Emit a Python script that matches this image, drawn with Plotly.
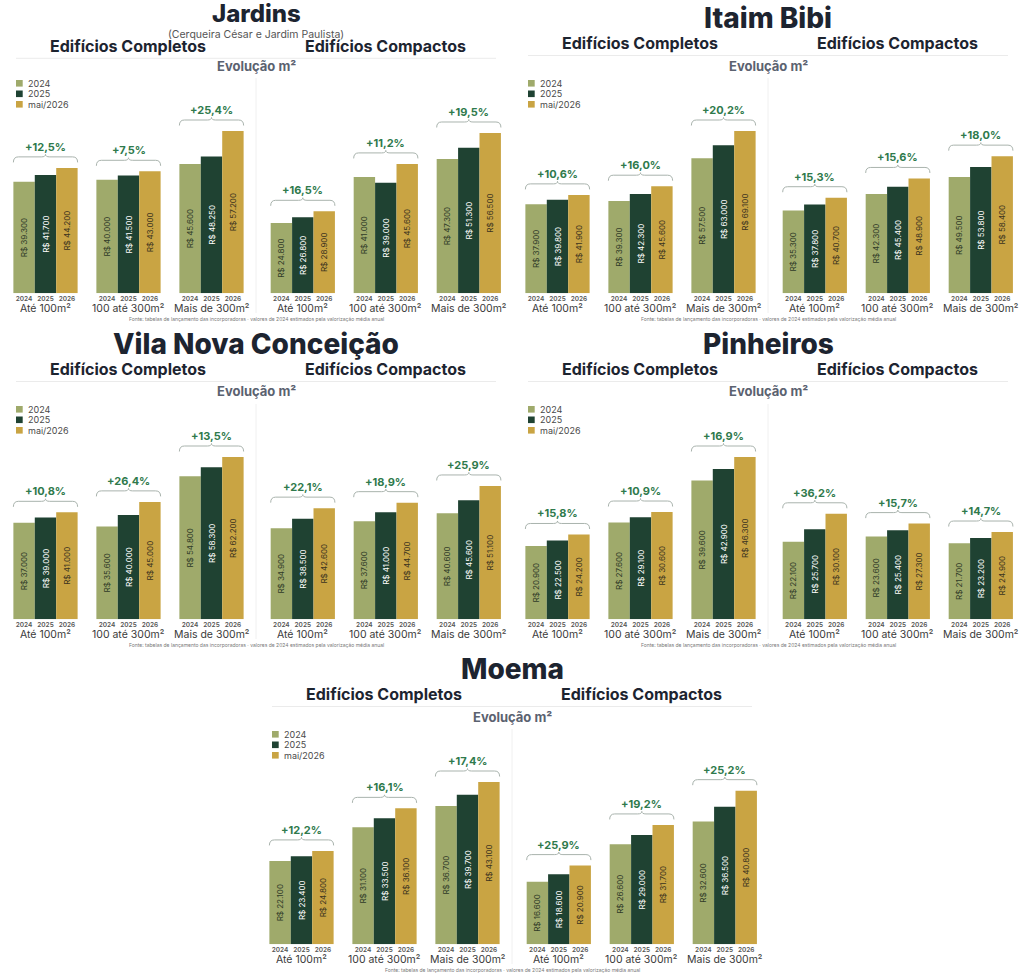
import plotly.graph_objects as go

categorias = ["Até 100m²", "100 até 300m²", "Mais de 300m²"]
anos = ["2024", "2025", "2026"]
legenda = ["2024", "2025", "mai/2026"]
tipos = ["Edifícios Completos", "Edifícios Compactos"]
bairros = ["Jardins", "Itaim Bibi", "Vila Nova Conceição", "Pinheiros", "Moema"]
subtitulo_jardins = "(Cerqueira César e Jardim Paulista)"
fonte = ("Fonte: tabelas de lançamento das incorporadoras · valores de 2024 "
         "estimados pela valorização média anual")

# R$/m² por ano (2024, 2025, mai/2026); cada lista segue a ordem das categorias
jardins_completos = [[39300, 40000, 45600], [41700, 41500, 48250], [44200, 43000, 57200]]
jardins_compactos = [[24800, 41000, 47300], [26800, 39000, 51300], [28900, 45600, 56500]]
itaim_completos = [[37900, 39300, 57500], [39800, 42300, 63000], [41900, 45600, 69100]]
itaim_compactos = [[35300, 42300, 49500], [37800, 45400, 53800], [40700, 48900, 58400]]
vnc_completos = [[37000, 35600, 54800], [39000, 40000, 58300], [41000, 45000, 62200]]
vnc_compactos = [[34900, 37600, 40600], [38500, 41000, 45600], [42600, 44700, 51100]]
pinheiros_completos = [[20900, 27600, 39600], [22500, 29100, 42900], [24200, 30600, 46300]]
pinheiros_compactos = [[22100, 23600, 21700], [25700, 25400, 23200], [30100, 27300, 24900]]
moema_completos = [[22100, 31100, 36700], [23400, 33500, 39700], [24800, 36100, 43100]]
moema_compactos = [[16600, 26600, 32600], [18600, 29000, 36500], [20900, 31700, 40800]]

dados = [
    (jardins_completos, jardins_compactos),
    (itaim_completos, itaim_compactos),
    (vnc_completos, vnc_compactos),
    (pinheiros_completos, pinheiros_compactos),
    (moema_completos, moema_compactos),
]

cores = ["#9faa6b", "#1f4232", "#c9a443"]
cores_texto = ["#2f3a28", "#ffffff", "#3b3320"]
ESCURO = "#1d2430"
FONTE = "Inter"

W, H = 1024, 976
paineis = [(0, 0), (512, 0), (0, 326), (512, 326), (256, 651)]
ESP = 83.0          # px entre grupos
BW = 0.258          # largura da barra (unidades de grupo)
HW = 1.5 * BW       # meia largura do grupo
ALT_MAX = 162.3     # px da barra mais alta


def fx(px):
    return px / W


def fy(py):
    return 1 - py / H


def real(v):
    return "R$ " + f"{v:,}".replace(",", ".")


def texto(x, y, txt, fnt, xref="paper", yref="paper", xanchor="center", **kw):
    return dict(x=x, y=y, xref=xref, yref=yref, text=txt, showarrow=False,
                xanchor=xanchor, yanchor="middle", font=fnt, **kw)


fig = go.Figure()
layout = {}
annotations = []
shapes = []

k = 0
for p, (nome, (ox, oy), par) in enumerate(zip(bairros, paineis, dados)):
    vmax = max(max(max(a) for a in serie) for serie in par)
    u = vmax / ALT_MAX
    base = oy + 293.3
    topo = oy + 100

    for t, serie in enumerate(par):
        k += 1
        xa = "x" if k == 1 else f"x{k}"
        ya = "y" if k == 1 else f"y{k}"
        c0 = ox + 45.5 + t * 257.3
        d0, d1 = ox + 4 + t * 257, ox + 253 + t * 257
        pos = [g + (j - 1) * BW for g in range(3) for j in range(3)]
        layout["xaxis" if k == 1 else f"xaxis{k}"] = dict(
            domain=[fx(d0), fx(d1)],
            range=[(d0 - c0) / ESP, (d1 - c0) / ESP],
            anchor=ya,
            tickvals=pos,
            ticktext=anos * 3,
            tickfont=dict(family=FONTE, size=6.5, color="#555555", weight=600),
            ticks="",
            showgrid=False,
            zeroline=False,
            showline=False,
            fixedrange=True,
        )
        layout["yaxis" if k == 1 else f"yaxis{k}"] = dict(
            domain=[fy(base), fy(topo)],
            range=[0, (base - topo) * u],
            anchor=xa,
            visible=False,
            fixedrange=True,
        )
        for j in range(3):
            fig.add_trace(go.Bar(
                x=[g + (j - 1) * BW for g in range(3)],
                y=serie[j],
                width=BW,
                marker=dict(color=cores[j], line=dict(width=0)),
                text=[real(v) for v in serie[j]],
                textposition="inside",
                insidetextanchor="middle",
                textangle=-90,
                constraintext="none",
                textfont=dict(family=FONTE, size=8, color=cores_texto[j]),
                xaxis=xa,
                yaxis=ya,
                showlegend=False,
                hovertemplate="%{text}<extra></extra>",
            ))
        for g in range(3):
            gmax = max(serie[j][g] for j in range(3))
            pct = (serie[2][g] / serie[0][g] - 1) * 100
            yl, ye, yp = gmax + 11 * u, gmax + 5.5 * u, gmax + 13.5 * u
            a, b = g - HW, g + HW
            path = (f"M {a},{ye} Q {a},{yl} {a + 0.06},{yl} L {g - 0.05},{yl} "
                    f"Q {g},{yl} {g},{yp} Q {g},{yl} {g + 0.05},{yl} "
                    f"L {b - 0.06},{yl} Q {b},{yl} {b},{ye}")
            shapes.append(dict(type="path", path=path, xref=xa, yref=ya,
                               line=dict(color="#a9b3ad", width=1)))
            annotations.append(texto(
                g, gmax + 21 * u, "+" + f"{pct:.1f}".replace(".", ",") + "%",
                dict(family=FONTE, size=11, color="#2f7a4c", weight=700),
                xref=xa, yref=ya))
            annotations.append(texto(
                g, fy(oy + 308.5), categorias[g],
                dict(family=FONTE, size=10.5, color="#3a3a3a"), xref=xa))

    # cabeçalho do painel
    jard = p == 0
    if jard:
        annotations.append(texto(
            fx(ox + 256), fy(oy + 12.5), nome,
            dict(family=FONTE, size=24, color=ESCURO, weight=800), height=24))
        annotations.append(texto(
            fx(ox + 256), fy(oy + 34), subtitulo_jardins,
            dict(family=FONTE, size=10.5, color="#555555"), height=12))
    else:
        annotations.append(texto(
            fx(ox + 256), fy(oy + 17.5), nome,
            dict(family=FONTE, size=28, color=ESCURO, weight=800)))
    for t in range(2):
        annotations.append(texto(
            fx(ox + 128.3 + t * 257), fy(oy + (46 if jard else 43)), tipos[t],
            dict(family=FONTE, size=16, color=ESCURO, weight=700)))
    ln = oy + (58.3 if jard else 55.5)
    shapes.append(dict(type="line", xref="paper", yref="paper",
                       x0=fx(ox + 16), x1=fx(ox + 496), y0=fy(ln), y1=fy(ln),
                       line=dict(color="#ebebeb", width=1)))
    annotations.append(texto(
        fx(ox + 256), fy(oy + 65.5), "Evolução m²",
        dict(family=FONTE, size=13, color="#5b6270", weight=700)))
    shapes.append(dict(type="line", xref="paper", yref="paper",
                       x0=fx(ox + 256), x1=fx(ox + 256), y0=fy(oy + 78), y1=fy(oy + 313),
                       line=dict(color="#f0f0f0", width=1)))
    for j in range(3):
        yc = oy + 83.3 + j * 10.5
        shapes.append(dict(type="rect", xref="paper", yref="paper",
                           x0=fx(ox + 16), x1=fx(ox + 22.7), y0=fy(yc - 3.3), y1=fy(yc + 3.3),
                           fillcolor=cores[j], line=dict(width=0)))
        annotations.append(texto(
            fx(ox + 25.7), fy(yc), legenda[j],
            dict(family=FONTE, size=9, color="#4a4a4a"), xanchor="left"))
    annotations.append(texto(
        fx(ox + 256), fy(oy + 318.5), fonte,
        dict(family=FONTE, size=5, color="#777777")))

fig.update_layout(
    **layout,
    width=W,
    height=H,
    margin=dict(l=0, r=0, t=0, b=0),
    paper_bgcolor="white",
    plot_bgcolor="white",
    barmode="overlay",
    annotations=annotations,
    shapes=shapes,
    font=dict(family=FONTE),
)

fig.write_html("out.html", config={"displayModeBar": False},
               post_script="document.body.style.margin = '0';")
